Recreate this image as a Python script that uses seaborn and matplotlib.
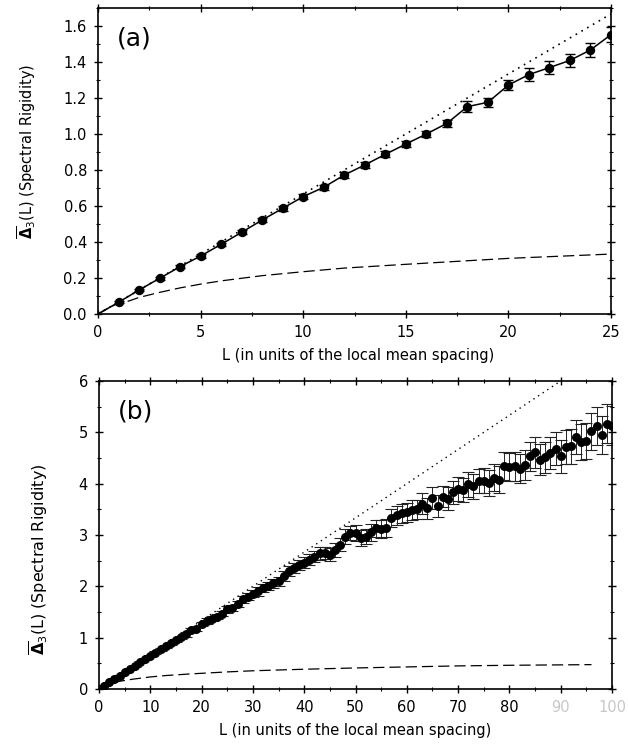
import matplotlib
matplotlib.use("Agg")
import matplotlib.pyplot as plt
from matplotlib.ticker import MultipleLocator, FormatStrFormatter
import pandas as pd
import seaborn as sns

# ---- panel (a): L = 1..25 ----
L_a = list(range(1, 26))
delta_a = [0.065, 0.133, 0.198, 0.263, 0.322, 0.387, 0.454, 0.522, 0.587, 0.652,
           0.704, 0.772, 0.828, 0.887, 0.944, 1.000, 1.059, 1.152, 1.176, 1.272,
           1.330, 1.369, 1.409, 1.467, 1.552]
err_a = [0.006, 0.007, 0.008, 0.008, 0.009, 0.010, 0.010, 0.011, 0.012, 0.013,
         0.014, 0.015, 0.016, 0.017, 0.018, 0.019, 0.020, 0.030, 0.025, 0.030,
         0.034, 0.035, 0.035, 0.040, 0.042]

# ---- panel (b): L = 1..100 ----
L_b = list(range(1, 101))
delta_b = [0.066, 0.132, 0.197, 0.262, 0.325, 0.388, 0.452, 0.518, 0.585, 0.648,
           0.708, 0.770, 0.830, 0.890, 0.948, 1.005, 1.062, 1.150, 1.175, 1.268,
           1.325, 1.370, 1.410, 1.470, 1.550, 1.58, 1.66, 1.75, 1.80, 1.86,
           1.90, 1.96, 2.00, 2.06, 2.10, 2.20, 2.30, 2.36, 2.42, 2.46,
           2.52, 2.58, 2.64, 2.65, 2.62, 2.71, 2.81, 2.97, 3.04, 3.04,
           2.94, 2.97, 3.05, 3.13, 3.12, 3.14, 3.33, 3.38, 3.42, 3.44,
           3.49, 3.50, 3.61, 3.52, 3.72, 3.56, 3.75, 3.71, 3.83, 3.90,
           3.88, 3.99, 3.95, 4.05, 4.06, 4.01, 4.12, 4.08, 4.34, 4.32,
           4.34, 4.29, 4.36, 4.53, 4.61, 4.47, 4.51, 4.60, 4.68, 4.53,
           4.71, 4.73, 4.91, 4.81, 4.84, 5.02, 5.13, 4.95, 5.17, 5.13]
err_b = [0.01, 0.01, 0.01, 0.01, 0.01, 0.02, 0.02, 0.02, 0.02, 0.02,
         0.03, 0.03, 0.03, 0.03, 0.03, 0.03, 0.04, 0.04, 0.04, 0.04,
         0.05, 0.05, 0.05, 0.05, 0.06, 0.06, 0.06, 0.07, 0.07, 0.07,
         0.08, 0.08, 0.08, 0.09, 0.09, 0.09, 0.10, 0.10, 0.10, 0.11,
         0.11, 0.11, 0.12, 0.12, 0.12, 0.13, 0.13, 0.14, 0.14, 0.15,
         0.15, 0.15, 0.16, 0.16, 0.17, 0.17, 0.17, 0.18, 0.18, 0.19,
         0.19, 0.19, 0.20, 0.20, 0.21, 0.21, 0.21, 0.22, 0.22, 0.23,
         0.23, 0.24, 0.24, 0.24, 0.25, 0.25, 0.26, 0.26, 0.27, 0.27,
         0.28, 0.28, 0.29, 0.29, 0.30, 0.30, 0.31, 0.31, 0.32, 0.32,
         0.33, 0.34, 0.34, 0.35, 0.35, 0.36, 0.37, 0.37, 0.38, 0.38]

# Poisson (dotted) and GOE (dashed) reference curves
poisson_a_L = [0, 25]
poisson_a_y = [0, 1.667]
poisson_b_L = [0, 90]
poisson_b_y = [0, 6.0]

goe_a_L = [0, 0.5, 1, 1.5, 2, 3, 4, 5, 6, 8, 10, 12, 15, 20, 25]
goe_a_y = [0, 0.033, 0.060, 0.072, 0.092, 0.120, 0.145, 0.166, 0.184, 0.213,
           0.235, 0.255, 0.276, 0.309, 0.333]
goe_b_L = [0, 1, 2, 4, 6.5, 10, 13, 18, 25, 30, 40, 50, 60, 70, 80, 90, 96]
goe_b_y = [0, 0.060, 0.093, 0.150, 0.190, 0.235, 0.262, 0.295, 0.333, 0.355,
           0.385, 0.410, 0.430, 0.450, 0.462, 0.470, 0.475]

YLABEL = r"$\overline{\mathbf{\Delta}}_{3}$(L) (Spectral Rigidity)"
XLABEL = "L (in units of the local mean spacing)"

sns.set_style("ticks")
plt.rcParams["font.family"] = ["DejaVu Sans"]
plt.rcParams["text.color"] = "black"
plt.rcParams["axes.labelcolor"] = "black"

fig = plt.figure(figsize=(6.28, 7.44), dpi=100)
ax_a = fig.add_axes([98 / 628, 1 - 314 / 744, 513 / 628, 306 / 744])
ax_b = fig.add_axes([99 / 628, 1 - 689 / 744, 513 / 628, 308 / 744])


def style_axes(ax):
    for s in ax.spines.values():
        s.set_linewidth(1.2)
        s.set_color("black")
    ax.tick_params(which="both", direction="inout", top=True, right=True,
                   labelsize=10.5, colors="black", labelcolor="black", pad=5)
    ax.tick_params(which="major", length=6, width=1)
    ax.tick_params(which="minor", length=3.5, width=0.8)


# ---- (a) ----
df_a = pd.DataFrame({"L": [0] + L_a, "d3": [0] + delta_a})
sns.lineplot(data=pd.DataFrame({"L": poisson_a_L, "y": poisson_a_y}), x="L", y="y",
             ax=ax_a, color="black", lw=1.2, linestyle=(0, (1, 3)))
sns.lineplot(data=pd.DataFrame({"L": goe_a_L, "y": goe_a_y}), x="L", y="y",
             ax=ax_a, color="black", lw=0.9, linestyle=(0, (9, 4)))
sns.lineplot(data=df_a, x="L", y="d3", ax=ax_a, color="black", lw=1.1)
ax_a.errorbar(L_a, delta_a, yerr=err_a, fmt="none", ecolor="black",
              elinewidth=1.0, capsize=3.5, capthick=1.0)
sns.scatterplot(x=L_a, y=delta_a, ax=ax_a, color="black", s=46,
                edgecolor="black", linewidth=0, zorder=5)
ax_a.set_xlim(0, 25)
ax_a.set_ylim(0, 1.7)
ax_a.xaxis.set_major_locator(MultipleLocator(5))
ax_a.xaxis.set_minor_locator(MultipleLocator(2.5))
ax_a.yaxis.set_major_locator(MultipleLocator(0.2))
ax_a.yaxis.set_minor_locator(MultipleLocator(0.1))
ax_a.yaxis.set_major_formatter(FormatStrFormatter("%.1f"))
style_axes(ax_a)
ax_a.set_xlabel(XLABEL, fontsize=10.5)
ax_a.set_ylabel(YLABEL, fontsize=10.5)
ax_a.xaxis.set_label_coords(0.507, -0.11)
ax_a.yaxis.set_label_coords(-0.117, 0.53)
ax_a.text(0.037, 0.90, "(a)", transform=ax_a.transAxes, fontsize=18,
          va="center", ha="left")

# ---- (b) ----
sns.lineplot(data=pd.DataFrame({"L": poisson_b_L, "y": poisson_b_y}), x="L", y="y",
             ax=ax_b, color="black", lw=1.0, linestyle=(0, (1, 3)))
sns.lineplot(data=pd.DataFrame({"L": goe_b_L, "y": goe_b_y}), x="L", y="y",
             ax=ax_b, color="black", lw=0.9, linestyle=(0, (9, 4)))
ax_b.errorbar(L_b, delta_b, yerr=err_b, fmt="none", ecolor="#222222",
              elinewidth=0.7, capsize=4, capthick=0.8)
sns.scatterplot(x=L_b, y=delta_b, ax=ax_b, color="black", s=42,
                edgecolor="black", linewidth=0, zorder=5)
ax_b.set_xlim(0, 100)
ax_b.set_ylim(0, 6)
ax_b.xaxis.set_major_locator(MultipleLocator(10))
ax_b.xaxis.set_minor_locator(MultipleLocator(5))
ax_b.yaxis.set_major_locator(MultipleLocator(1))
ax_b.yaxis.set_minor_locator(MultipleLocator(0.5))
style_axes(ax_b)
for lbl in ax_b.get_xticklabels():
    if lbl.get_text() in ("90", "100"):
        lbl.set_color("#c8c8c8")
ax_b.set_xlabel(XLABEL, fontsize=10.5)
ax_b.set_ylabel(YLABEL, fontsize=11.5)
ax_b.xaxis.set_label_coords(0.50, -0.11)
ax_b.yaxis.set_label_coords(-0.095, 0.42)
ax_b.text(0.037, 0.90, "(b)", transform=ax_b.transAxes, fontsize=18,
          va="center", ha="left")

fig.savefig("out.png", dpi=100)
plt.close(fig)
